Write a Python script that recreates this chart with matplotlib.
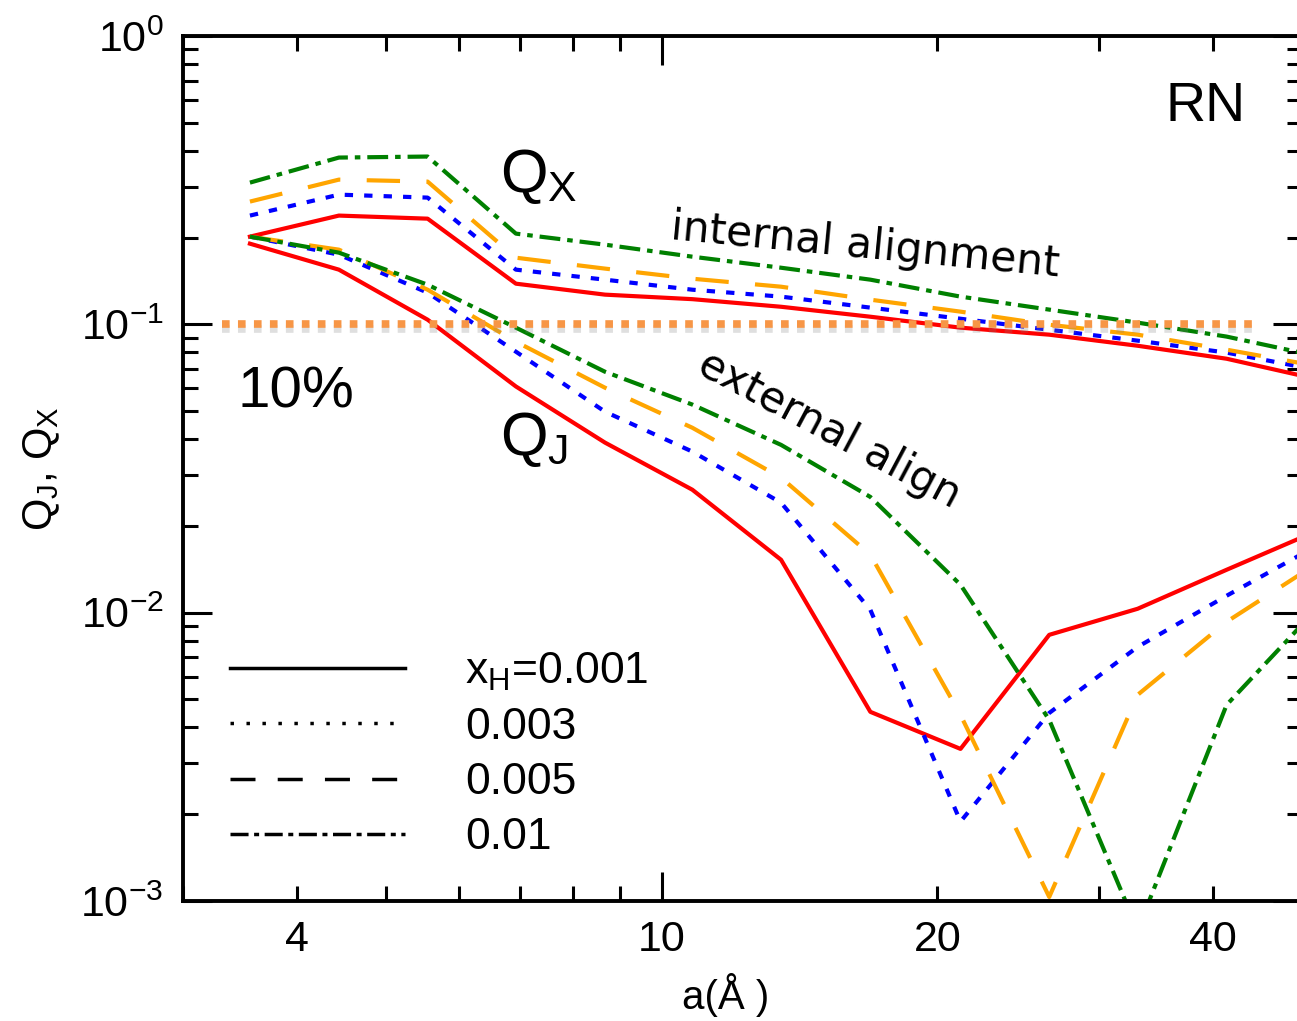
import matplotlib
matplotlib.use("Agg")
import matplotlib.pyplot as plt
import matplotlib.patheffects as pe
from matplotlib.lines import Line2D
from matplotlib.ticker import FixedLocator, FuncFormatter, LogLocator, NullFormatter

# grid spacing a (Angstrom)
a = [3.55, 4.44, 5.55, 6.93, 8.67, 10.8, 13.5, 16.9, 21.2, 26.5, 33.1, 41.4, 51.7]

xH_labels = ["$\\mathrm{x_H}$=0.001", "0.003", "0.005", "0.01"]

# Q_X (internal alignment)
qx_001 = [0.2015, 0.2384, 0.2326, 0.1384, 0.1268, 0.1223, 0.1151, 0.1063, 0.0974, 0.0921, 0.0843, 0.0760, 0.0648]
qx_003 = [0.2384, 0.2818, 0.2752, 0.1548, 0.1429, 0.1319, 0.1248, 0.1143, 0.1046, 0.0958, 0.0878, 0.0798, 0.0697]
qx_005 = [0.2666, 0.3177, 0.3127, 0.1703, 0.1561, 0.1440, 0.1351, 0.1218, 0.1107, 0.0997, 0.0921, 0.0817, 0.0719]
qx_01 = [0.3102, 0.3789, 0.3820, 0.2064, 0.1890, 0.1717, 0.1572, 0.1429, 0.1248, 0.1125, 0.1014, 0.0907, 0.0779]

# Q_J (external alignment)
qj_001 = [0.1905, 0.1548, 0.1038, 0.0609, 0.0389, 0.0267, 0.01526, 0.00453, 0.00337, 0.00838, 0.01032, 0.01409, 0.01909]
qj_003 = [0.2015, 0.1745, 0.1288, 0.0804, 0.0498, 0.0362, 0.02407, 0.01023, 0.001886, 0.00449, 0.00761, 0.01145, 0.01693]
qj_005 = [0.2015, 0.1816, 0.1319, 0.0871, 0.0603, 0.0438, 0.0294, 0.01589, 0.00442, 0.001033, 0.00519, 0.00930, 0.01466]
qj_01 = [0.2015, 0.1773, 0.1373, 0.0974, 0.0685, 0.0527, 0.0382, 0.0252, 0.01250, 0.00425, 0.000794, 0.00479, 0.01015]

plt.rcParams['font.family'] = ['Liberation Sans', 'DejaVu Sans']
plt.rcParams['mathtext.fontset'] = 'custom'
plt.rcParams['mathtext.rm'] = 'Liberation Sans'
plt.rcParams['mathtext.it'] = 'Liberation Sans'
plt.rcParams['mathtext.bf'] = 'Liberation Sans:bold'
plt.rcParams['lines.scale_dashes'] = False

fig = plt.figure(figsize=(12.97, 10.21), dpi=100)
ax = fig.add_axes([0.1411, 0.1175, 0.8625, 0.8472])

styles = [
    ('#ff0000', '-'),
    ('#0000ff', (0, (6, 8))),
    ('#ffa500', (0, (24, 19))),
    ('#008000', (0, (15, 5, 4, 5))),
]
qx_all = [qx_001, qx_003, qx_005, qx_01]
qj_all = [qj_001, qj_003, qj_005, qj_01]

for (col, ls), qx, qj in zip(styles, qx_all, qj_all):
    ax.plot(a, qx, color=col, linestyle=ls, lw=3)
    ax.plot(a, qj, color=col, linestyle=ls, lw=3)

# 10% reference line
ax.axhline(0.1, xmin=0.035, xmax=0.958, color='#f79646', lw=5.5,
           linestyle=(0, (5.5, 6)),
           path_effects=[pe.SimpleLineShadow(offset=(0, -3), shadow_color='gray', alpha=0.25),
                         pe.Normal()])

ax.set_xscale('log')
ax.set_yscale('log')
ax.set_xlim(3, 50)
ax.set_ylim(1e-3, 1)

# x ticks: long major at 10, short minors elsewhere
ax.xaxis.set_major_locator(FixedLocator([10]))
ax.xaxis.set_minor_locator(FixedLocator([3, 4, 5, 6, 7, 8, 9, 20, 30, 40, 50]))
ax.xaxis.set_major_formatter(FuncFormatter(lambda v, p: "%d" % v))
ax.xaxis.set_minor_formatter(FuncFormatter(lambda v, p: "%d" % v if v in (4, 20, 40) else ""))
ax.yaxis.set_major_locator(LogLocator(base=10, numticks=10))
ax.yaxis.set_minor_locator(LogLocator(base=10, subs=range(2, 10), numticks=20))
ax.yaxis.set_minor_formatter(NullFormatter())

ax.tick_params(which='both', direction='in', top=True, right=True, width=2.2, pad=14)
ax.tick_params(which='major', length=21)
ax.tick_params(which='minor', length=10.5)
ax.tick_params(axis='x', which='both', labelsize=31)
ax.tick_params(axis='y', which='both', labelsize=31)
for s in ax.spines.values():
    s.set_linewidth(2.8)

ax.set_xlabel("a(Å )", fontsize=29)
ax.xaxis.set_label_coords(0.485, -0.083)
ax.set_ylabel("$Q_J$, $Q_X$", fontsize=30)
ax.yaxis.set_label_coords(-0.108, 0.5)

# annotations
ax.text(0.2834, 0.8197, "$Q_X$", transform=ax.transAxes, fontsize=44, va='baseline')
ax.text(0.2834, 0.5156, "$Q_J$", transform=ax.transAxes, fontsize=44, va='baseline')
ax.text(0.0483, 0.570, "10%", transform=ax.transAxes, fontsize=42, va='baseline')
ax.text(0.878, 0.9017, "RN", transform=ax.transAxes, fontsize=40, va='baseline')
ax.text(0.435, 0.765, "internal alignment", transform=ax.transAxes, fontsize=30.5,
        family='DejaVu Sans', rotation=-5.5, rotation_mode='anchor', ha='left', va='baseline')
ax.text(0.4577, 0.6116, "external align", transform=ax.transAxes, fontsize=30.5,
        family='DejaVu Sans', rotation=-28, rotation_mode='anchor', ha='left', va='baseline')

# legend with black line samples
handles = [
    Line2D([], [], color='k', lw=2.5, linestyle='-'),
    Line2D([], [], color='k', lw=2.5, linestyle=(0, (2.5, 9))),
    Line2D([], [], color='k', lw=2.5, linestyle=(0, (18, 16))),
    Line2D([], [], color='k', lw=2.5, linestyle=(0, (13, 4, 3.6, 4))),
]
ax.legend(handles, xH_labels, loc='upper left', bbox_to_anchor=(0.0423, 0.2895),
          frameon=False, fontsize=32, handlelength=3.93, handletextpad=1.35,
          labelspacing=0.32, borderpad=0, borderaxespad=0)

fig.savefig("out.png", dpi=100)
